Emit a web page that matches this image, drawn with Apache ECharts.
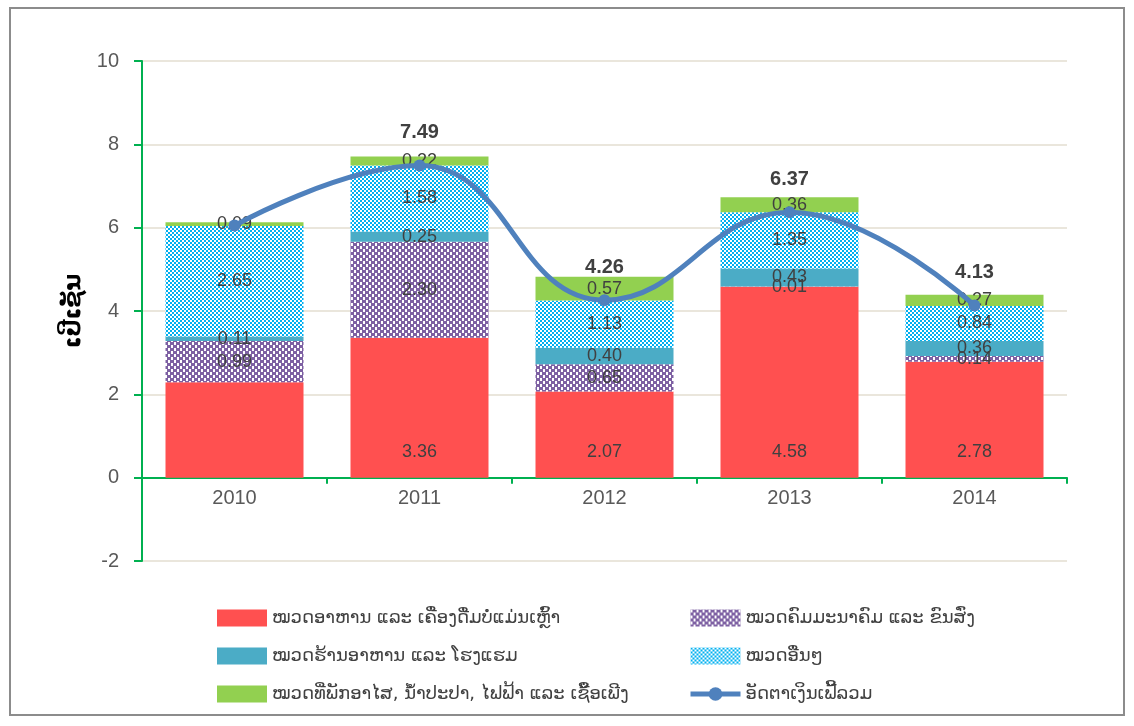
<!DOCTYPE html>
<html>
<head>
<meta charset="utf-8">
<script src="https://cdn.jsdelivr.net/npm/echarts@6/dist/echarts.min.js"></script>
<style>
html, body { margin: 0; padding: 0; background: #fff; }
#chart { width: 1134px; height: 726px; }
</style>
</head>
<body>
<div id="chart"></div>
<script>
// data
var years = ['2010', '2011', '2012', '2013', '2014'];
var food = [2.29, 3.36, 2.07, 4.58, 2.78];
var transport = [0.99, 2.30, 0.65, 0.01, 0.14];
var restaurant = [0.11, 0.25, 0.40, 0.43, 0.36];
var other = [2.65, 1.58, 1.13, 1.35, 0.84];
var housing = [0.09, 0.22, 0.57, 0.36, 0.27];
var total = [6.05, 7.49, 4.26, 6.37, 4.13];
var yMin = -2, yMax = 10, yStep = 2;
// labels that the original leaves out
var foodHidden = [0];
var totalHidden = [0];

var names = [
  'ໝວດອາຫານ ແລະ ເຄື່ອງດື່ມບໍ່ແມ່ນເຫຼົ້າ',
  'ໝວດຄົມມະນາຄົມ ແລະ ຂົນສົ່ງ',
  'ໝວດຮ້ານອາຫານ ແລະ ໂຮງແຮມ',
  'ໝວດອື່ນໆ',
  'ໝວດທີ່ພັກອາໄສ, ນ້ຳປະປາ, ໄຟຟ້າ ແລະ ເຊື້ອເພີງ',
  'ອັດຕາເງິນເຟີ້ລວມ'
];

// small checkerboard fills like the excel patterns
function checker (fg, cell) {
  var c = document.createElement('canvas')
  c.width = cell * 2
  c.height = cell * 2
  var ctx = c.getContext('2d')
  ctx.fillStyle = '#ffffff'
  ctx.fillRect(0, 0, c.width, c.height)
  ctx.fillStyle = fg
  ctx.fillRect(0, 0, cell, cell)
  ctx.fillRect(cell, cell, cell, cell)
  return { image: c, repeat: 'repeat' }
}
// purple one has less white in it
function dots (fg) {
  var c = document.createElement('canvas')
  c.width = 6
  c.height = 6
  var ctx = c.getContext('2d')
  ctx.fillStyle = fg
  ctx.fillRect(0, 0, 6, 6)
  ctx.fillStyle = '#ffffff'
  ctx.fillRect(0, 0, 2, 3)
  ctx.fillRect(3, 3, 2, 3)
  return { image: c, repeat: 'repeat' }
}

var numFont = 'Liberation Sans'
function segLabel (hidden) {
  return {
    show: true,
    position: 'inside',
    color: '#404040',
    fontSize: 18,
    fontFamily: numFont,
    formatter: function (p) {
      if (hidden && hidden.indexOf(p.dataIndex) >= 0) return ''
      return p.value.toFixed(2)
    }
  }
}

function barSeries (name, data, color, label) {
  return {
    name: name,
    type: 'bar',
    stack: 'cpi',
    barWidth: 138,
    data: data,
    itemStyle: { color: color },
    label: label,
    emphasis: { disabled: true }
  }
}

var foodLabel = segLabel(foodHidden)
foodLabel.position = 'insideBottom'
foodLabel.distance = 17

var legendText = { color: '#404040', fontSize: 18, fontFamily: 'DejaVu Sans' }

var myChart = echarts.init(document.getElementById('chart'))
var option = {
  animation: false,
  grid: { left: 142, right: 67, top: 61, bottom: 165 },
  graphic: [{
    type: 'rect',
    shape: { x: 10, y: 8, width: 1114, height: 707 },
    style: { fill: 'none', stroke: '#8c8c8c', lineWidth: 2 }
  }],
  legend: [
    {
      orient: 'vertical',
      left: 212,
      top: 604,
      itemWidth: 50,
      itemHeight: 17,
      itemGap: 20,
      textStyle: legendText,
      data: [
        { name: names[0], icon: 'rect' },
        { name: names[2], icon: 'rect' },
        { name: names[4], icon: 'rect' }
      ]
    },
    {
      orient: 'vertical',
      left: 683,
      top: 604,
      itemWidth: 50,
      itemHeight: 17,
      itemGap: 20,
      lineStyle: { width: 5 },
      textStyle: legendText,
      data: [
        { name: names[1], icon: 'rect' },
        { name: names[3], icon: 'rect' },
        names[5]
      ]
    }
  ],
  xAxis: {
    type: 'category',
    data: years,
    axisLine: { lineStyle: { color: '#00B050', width: 2 } },
    axisTick: { show: true, length: 6, lineStyle: { color: '#00B050', width: 2 } },
    // labels sit under the zero line, not at the bottom of the grid
    axisLabel: { color: '#595959', fontSize: 20, fontFamily: numFont, margin: -73 }
  },
  yAxis: {
    type: 'value',
    min: yMin,
    max: yMax,
    interval: yStep,
    name: 'ເປີເຊັນ',
    nameLocation: 'middle',
    nameGap: 56,
    nameTextStyle: { color: '#000', fontSize: 23, fontWeight: 'bold', fontFamily: 'DejaVu Sans' },
    axisLine: { show: true, lineStyle: { color: '#00B050', width: 2 } },
    axisTick: { show: true, length: 8, lineStyle: { color: '#00B050', width: 2 } },
    axisLabel: { color: '#595959', fontSize: 20, fontFamily: numFont, margin: 23 },
    splitLine: { lineStyle: { color: '#E3DED1', width: 1.5 } }
  },
  series: [
    barSeries(names[0], food, '#FF5050', foodLabel),
    barSeries(names[1], transport, dots('#7E61A3'), segLabel()),
    barSeries(names[2], restaurant, '#4BACC6', segLabel()),
    barSeries(names[3], other, checker('#00B0F0', 2), segLabel()),
    barSeries(names[4], housing, '#92D050', segLabel()),
    {
      name: names[5],
      type: 'line',
      data: total,
      smooth: 0.45,
      symbol: 'circle',
      symbolSize: 12,
      z: 5,
      lineStyle: { color: '#4F81BD', width: 5 },
      itemStyle: { color: '#4F81BD' },
      label: {
        show: true,
        position: 'top',
        distance: 17,
        color: '#404040',
        fontSize: 20,
        fontWeight: 'bold',
        fontFamily: numFont,
        formatter: function (p) {
          if (totalHidden.indexOf(p.dataIndex) >= 0) return ''
          return p.value.toFixed(2)
        }
      },
      emphasis: { disabled: true }
    }
  ]
}
myChart.setOption(option)
</script>
</body>
</html>
